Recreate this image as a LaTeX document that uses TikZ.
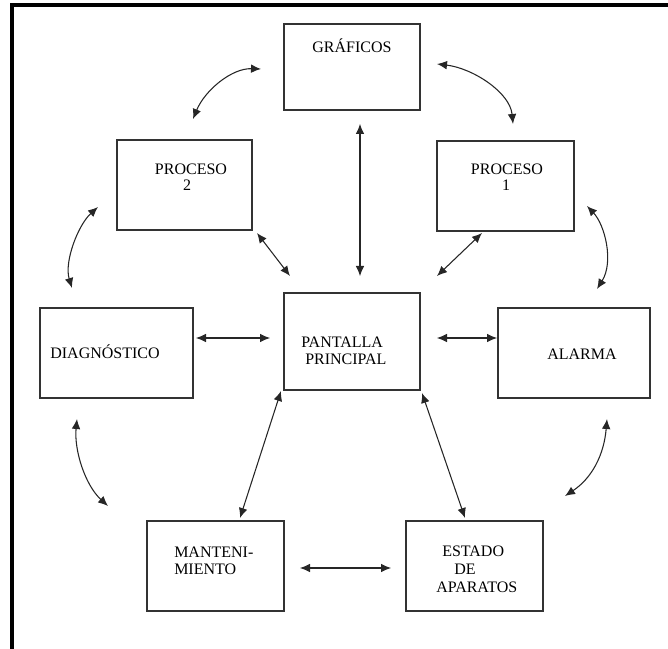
\documentclass[tikz,border=0pt]{standalone}
\usepackage{fontspec}
\setmainfont{Liberation Serif}
\usetikzlibrary{arrows.meta}
\begin{document}
\begin{tikzpicture}[x=0.75pt,y=-0.75pt,
  bx/.style 2 args={draw=black!80, line width=0.8pt, minimum width=#1, minimum height=#2, inner sep=0pt, outer sep=0pt},
  lbl/.style={font=\fontsize{12}{13}\selectfont, inner sep=0pt, anchor=base},
  lblw/.style={lbl, anchor=base west},
  link/.style={{Latex[length=7.5pt,width=6.5pt]}-{Latex[length=7.5pt,width=6.5pt]}, line width=0.8pt, black!85},
  frameline/.style={line width=3pt, line join=miter}]
\useasboundingbox (0,0) rectangle (668,649);
% frame
\coordinate (fb) at (12,649);
\coordinate (fc) at (12,5);
\coordinate (fr) at (668,5);
\draw[frameline] (fb) -- (fc) -- (fr);

% boxes
\node[bx={102pt}{64.5pt}] (g) at (352,67) {};
\node[bx={101.25pt}{67.5pt}] (p2) at (184.5,185) {};
\node[bx={102.75pt}{67.5pt}] (p1) at (505.5,186) {};
\node[bx={114.75pt}{67.5pt}] (d) at (116.5,353) {};
\node[bx={102pt}{72.75pt}] (pp) at (352,341.5) {};
\node[bx={114pt}{67.5pt}] (a) at (574,353) {};
\node[bx={102.75pt}{67.5pt}] (m) at (215.5,566) {};
\node[bx={102.75pt}{67.5pt}] (e) at (474.5,566) {};

% texts
\node[lbl] (gt) at (352,53) {GRÁFICOS};
\node[lbl] (p2t1) at (191,175) {PROCESO};
\node[lbl] (p2t2) at (187,191) {2};
\node[lbl] (p1t1) at (507,175) {PROCESO};
\node[lbl] (p1t2) at (506,191) {1};
\node[lbl] (dt) at (105,358) {DIAGNÓSTICO};
\node[lblw] (ppt1) at (301,347) {PANTALLA};
\node[lblw] (ppt2) at (305,364) {PRINCIPAL};
\node[lbl] (at) at (582,359) {ALARMA};
\node[lblw] (mt1) at (174,557) {MANTENI-};
\node[lblw] (mt2) at (174,574) {MIENTO};
\node[lblw] (et1) at (442,556) {ESTADO};
\node[lblw] (et2) at (454,574) {DE};
\node[lblw] (et3) at (436,592) {APARATOS};

% straight connector ends
\coordinate (gpp1) at (360,124);  \coordinate (gpp2) at (360,276);
\coordinate (p2pp1) at (257,233); \coordinate (p2pp2) at (290,276);
\coordinate (p1pp1) at (482,233); \coordinate (p1pp2) at (437,276);
\coordinate (dpp1) at (196,338);  \coordinate (dpp2) at (270,338);
\coordinate (ppa1) at (437,338);  \coordinate (ppa2) at (497,338);
\coordinate (ppm1) at (281,391);  \coordinate (ppm2) at (240,518);
\coordinate (ppe1) at (422,393);  \coordinate (ppe2) at (465,518);
\coordinate (me1) at (300,568);   \coordinate (me2) at (391,568);

\draw[link] (gpp1) -- (gpp2);
\draw[link] (p2pp1) -- (p2pp2);
\draw[link] (p1pp1) -- (p1pp2);
\draw[link] (dpp1) -- (dpp2);
\draw[link] (ppa1) -- (ppa2);
\draw[link] (ppm1) -- (ppm2);
\draw[link] (ppe1) -- (ppe2);
\draw[link] (me1) -- (me2);

% curved connector ends
\coordinate (c1a) at (261,69);  \coordinate (c1b) at (193,119);
\coordinate (c2a) at (437,64);  \coordinate (c2b) at (513,124);
\coordinate (c3a) at (98,207);  \coordinate (c3b) at (72,288);
\coordinate (c4a) at (587,206); \coordinate (c4b) at (597,289);
\coordinate (c5a) at (77,419);  \coordinate (c5b) at (108,506);
\coordinate (c6a) at (607,419); \coordinate (c6b) at (565,496);

\draw[link] (c1a) .. controls (232,68) and (205,90) .. (c1b);
\draw[link] (c2a) .. controls (472,68) and (510,92) .. (c2b);
\draw[link] (c3a) .. controls (78,225) and (64,262) .. (c3b);
\draw[link] (c4a) .. controls (605,225) and (614,262) .. (c4b);
\draw[link] (c5a) .. controls (74,450) and (85,485) .. (c5b);
\draw[link] (c6a) .. controls (604,455) and (592,478) .. (c6b);
\end{tikzpicture}
\end{document}
